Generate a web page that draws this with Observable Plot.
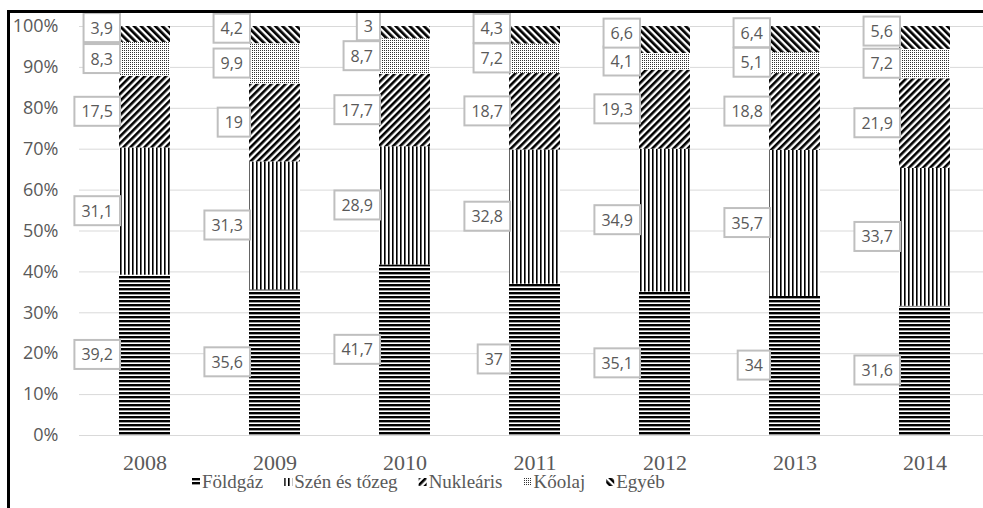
<!DOCTYPE html>
<html><head><meta charset="utf-8">
<script src="https://cdn.jsdelivr.net/npm/d3@7"></script>
<script src="https://cdn.jsdelivr.net/npm/@observablehq/plot@0.6"></script>
<style>
body{margin:0;background:#fff;}
#wrap{position:relative;width:983px;height:508px;overflow:hidden;background:#fff;}
#frame{position:absolute;left:7px;top:10px;right:-10px;bottom:-10px;border-top:3px solid #000;border-left:3px solid #000;pointer-events:none;}
</style>
</head><body>
<div id="wrap">
<svg width="0" height="0" style="position:absolute;left:0;top:0">
  <defs>
    <pattern id="p-foldgaz" patternUnits="userSpaceOnUse" width="4" height="4">
      <rect width="4" height="4" fill="#fff"/><rect y="0" width="4" height="2.4" fill="#000"/>
    </pattern>
    <pattern id="p-szen" patternUnits="userSpaceOnUse" width="4" height="4">
      <rect width="4" height="4" fill="#fff"/><rect x="0" width="1.6" height="4" fill="#000"/>
    </pattern>
    <pattern id="p-nuk" patternUnits="userSpaceOnUse" width="5" height="5" patternTransform="rotate(45)">
      <rect width="5" height="5" fill="#fff"/><rect x="0" width="2.6" height="5" fill="#000"/>
    </pattern>
    <pattern id="p-koolaj" patternUnits="userSpaceOnUse" width="2" height="2">
      <rect width="2" height="2" fill="#fff"/><rect x="0" y="0" width="1" height="1" fill="#333"/>
    </pattern>
    <pattern id="p-egyeb" patternUnits="userSpaceOnUse" width="5" height="5" patternTransform="rotate(-45)">
      <rect width="5" height="5" fill="#fff"/><rect x="0" width="2.7" height="5" fill="#000"/>
    </pattern>
  </defs>
</svg>
<div id="frame"></div>
</div>
<script>
const years = ["2008", "2009", "2010", "2011", "2012", "2013", "2014"];
const series = ["Földgáz", "Szén és tőzeg", "Nukleáris", "Kőolaj", "Egyéb"];
const foldgaz   = [39.2, 35.6, 41.7, 37, 35.1, 34, 31.6];
const szen      = [31.1, 31.3, 28.9, 32.8, 34.9, 35.7, 33.7];
const nuklearis = [17.5, 19, 17.7, 18.7, 19.3, 18.8, 21.9];
const koolaj    = [8.3, 9.9, 8.7, 7.2, 4.1, 5.1, 7.2];
const egyeb     = [3.9, 4.2, 3, 4.3, 6.6, 6.4, 5.6];
const yTicks = [0, 10, 20, 30, 40, 50, 60, 70, 80, 90, 100];

const seriesValues = [foldgaz, szen, nuklearis, koolaj, egyeb];
const patternUrls = ["url(#p-foldgaz)", "url(#p-szen)", "url(#p-nuk)", "url(#p-koolaj)", "url(#p-egyeb)"];

const data = [];
years.forEach((year, i) => {
  series.forEach((s, j) => data.push({year, series: s, value: seriesValues[j][i]}));
});
const fmt = v => String(v).replace(".", ",");
const gray = "#595959";

const chart = Plot.plot({
  width: 983,
  height: 478,
  marginLeft: 79,
  marginRight: 0,
  marginTop: 26,
  marginBottom: 43,
  style: {background: "transparent", position: "absolute", left: "0px", top: "0px"},
  x: {domain: years, range: [52.85, 1016.5], paddingInner: 0.605, paddingOuter: 0.5, align: 0.5, label: null},
  y: {domain: [0, 100], label: null},
  color: {domain: series, range: patternUrls, legend: false},
  marks: [
    Plot.ruleY(yTicks, {stroke: "#d9d9d9", strokeWidth: 1}),
    Plot.barY(data, {x: "year", y: "value", fill: "series"}),
    Plot.axisY({ticks: yTicks, tickSize: 0, tickPadding: 21, tickFormat: d => d + "%", fontSize: 18, fontFamily: "Open Sans", fill: gray, label: null}),
    Plot.axisX({tickSize: 0, tickPadding: 19, fontSize: 22, fontFamily: "Liberation Serif", fill: gray, label: null}),
    Plot.text(data, Plot.stackY({x: "year", y: "value", z: "series",
      text: d => d.series !== "Egyéb" ? fmt(d.value) : null,
      textAnchor: "end", dx: -32, fontSize: 16, fontFamily: "Open Sans", fill: gray})),
    Plot.text(data, Plot.stackY({x: "year", y: "value", z: "series",
      text: d => d.series === "Egyéb" ? fmt(d.value) : null,
      textAnchor: "end", dx: -32, dy: -6, fontSize: 16, fontFamily: "Open Sans", fill: gray}))
  ]
});
const wrap = document.getElementById("wrap");
wrap.insertBefore(chart, document.getElementById("frame"));

// label boxes behind each data label
chart.querySelectorAll('g[aria-label="text"] text').forEach(t => {
  const bb = t.getBBox();
  if (!bb.width) return;
  const r = document.createElementNS("http://www.w3.org/2000/svg", "rect");
  const cy = bb.y + bb.height / 2;
  r.setAttribute("x", bb.x - 7);
  r.setAttribute("y", cy - 14.5);
  r.setAttribute("width", bb.width + 14);
  r.setAttribute("height", 29);
  r.setAttribute("fill", "#fff");
  r.setAttribute("stroke", "#bfbfbf");
  r.setAttribute("stroke-width", 2);
  if (t.getAttribute("transform")) r.setAttribute("transform", t.getAttribute("transform"));
  t.parentNode.insertBefore(r, t);
});

// legend (below the chart SVG)
const lg = d3.create("svg")
  .attr("width", 983).attr("height", 30)
  .style("position", "absolute").style("left", "0px").style("top", "478px")
  .style("overflow", "visible");
wrap.appendChild(lg.node());
let lx = 192;
series.forEach((s, j) => {
  lg.append("rect").attr("x", lx).attr("y", 0).attr("width", 8).attr("height", 8).attr("fill", patternUrls[j]);
  const t = lg.append("text").attr("x", lx + 8 + 2).attr("y", 10)
    .attr("font-family", "Liberation Serif").attr("font-size", 19).attr("fill", gray).text(s);
  lx += 8 + 2 + t.node().getComputedTextLength() + 21;
});
</script>
</body></html>
